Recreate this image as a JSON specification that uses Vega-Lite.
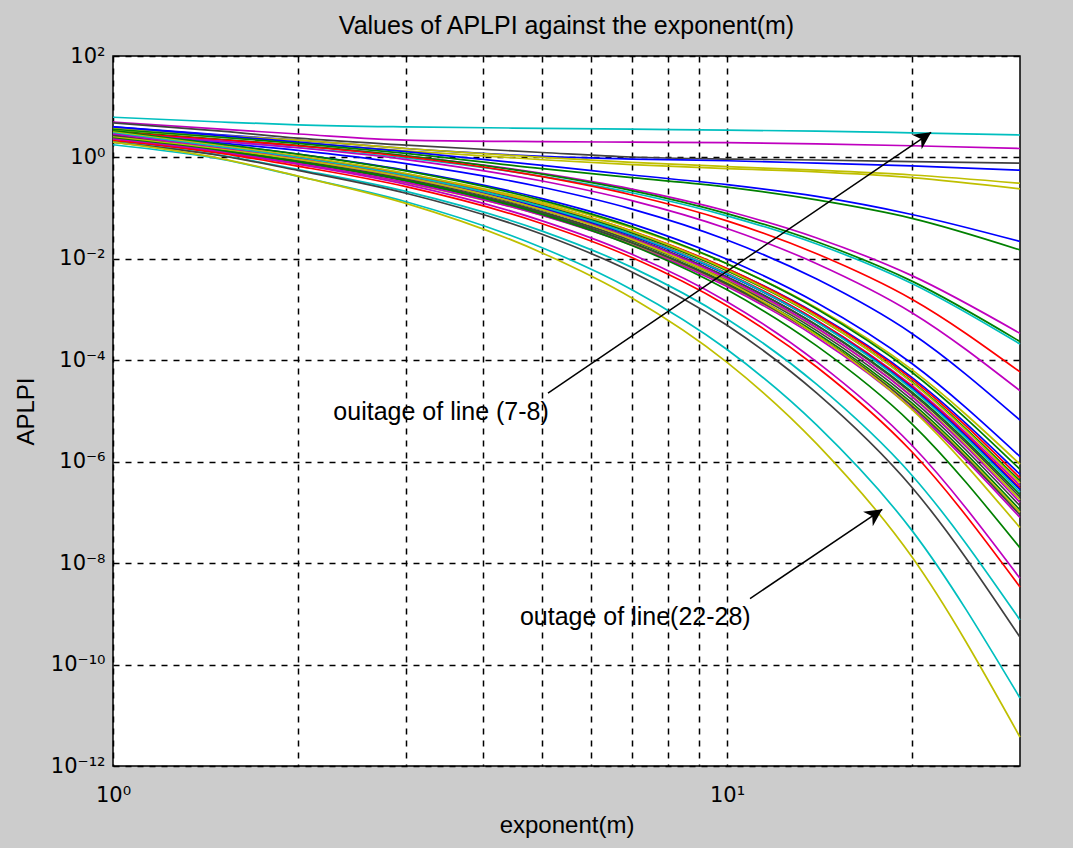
{
"$schema": "https://vega.github.io/schema/vega-lite/v6.json",
"width": 907, "height": 710,
"autosize": "none",
"padding": {"left": 113, "top": 56, "right": 53, "bottom": 82},
"background": "#CCCCCC",
"config": {
  "view": {"fill": "white", "stroke": "black", "strokeWidth": 1.5},
  "font": "Liberation Sans",
  "axis": {"labelFont": "DejaVu Sans", "titleFont": "Liberation Sans", "labelColor": "black", "titleColor": "black", "titleFontWeight": "normal", "labelFontSize": 21, "titleFontSize": 24, "grid": true, "gridColor": "black", "gridDash": [6, 6], "gridWidth": 1.5, "gridOpacity": 1, "domain": false, "ticks": false, "labelOverlap": false, "labelFlush": false}
},
"title": {"text": "Values of APLPI against the exponent(m)", "fontSize": 25, "fontWeight": "normal", "font": "Liberation Sans", "color": "black", "offset": 6},
"datasets": {
"curves": [
{"s":1,"m":1,"v":6.2},{"s":1,"m":1.5,"v":5.0},{"s":1,"m":2,"v":4.4},{"s":1,"m":3,"v":4.0},{"s":1,"m":5,"v":3.75},{"s":1,"m":7,"v":3.6},{"s":1,"m":10,"v":3.45},{"s":1,"m":14,"v":3.3},{"s":1,"m":20,"v":3.05},{"s":1,"m":30,"v":2.77},
{"s":2,"m":1,"v":5.0},{"s":2,"m":1.5,"v":3.6},{"s":2,"m":2,"v":2.9},{"s":2,"m":3,"v":2.2},{"s":2,"m":5,"v":2.05},{"s":2,"m":7,"v":2.0},{"s":2,"m":10,"v":1.95},{"s":2,"m":14,"v":1.85},{"s":2,"m":20,"v":1.7},{"s":2,"m":30,"v":1.5},
{"s":3,"m":1,"v":4.8},{"s":3,"m":1.5,"v":3.3},{"s":3,"m":2,"v":2.4},{"s":3,"m":3,"v":1.75},{"s":3,"m":5,"v":1.25},{"s":3,"m":7,"v":1.02},{"s":3,"m":10,"v":0.93},{"s":3,"m":14,"v":0.89},{"s":3,"m":20,"v":0.83},{"s":3,"m":30,"v":0.77},
{"s":4,"m":1,"v":4.0},{"s":4,"m":1.5,"v":2.8},{"s":4,"m":2,"v":2.2},{"s":4,"m":3,"v":1.5},{"s":4,"m":5,"v":1.05},{"s":4,"m":7,"v":0.93},{"s":4,"m":10,"v":0.86},{"s":4,"m":14,"v":0.77},{"s":4,"m":20,"v":0.68},{"s":4,"m":30,"v":0.56},
{"s":5,"m":1,"v":3.8},{"s":5,"m":1.5,"v":2.7},{"s":5,"m":2,"v":2.2},{"s":5,"m":3,"v":1.5},{"s":5,"m":5,"v":1.0},{"s":5,"m":7,"v":0.8},{"s":5,"m":10,"v":0.66},{"s":5,"m":14,"v":0.56},{"s":5,"m":20,"v":0.45},{"s":5,"m":30,"v":0.31},
{"s":6,"m":1,"v":3.5},{"s":6,"m":1.5,"v":2.5},{"s":6,"m":2,"v":2.0},{"s":6,"m":3,"v":1.35},{"s":6,"m":5,"v":0.9},{"s":6,"m":7,"v":0.72},{"s":6,"m":10,"v":0.6},{"s":6,"m":14,"v":0.52},{"s":6,"m":20,"v":0.40},{"s":6,"m":30,"v":0.24},
{"s":7,"m":1,"v":4.0},{"s":7,"m":1.5,"v":2.7},{"s":7,"m":2,"v":2.0},{"s":7,"m":3,"v":1.3},{"s":7,"m":5,"v":0.7},{"s":7,"m":7,"v":0.45},{"s":7,"m":10,"v":0.29},{"s":7,"m":14,"v":0.17},{"s":7,"m":20,"v":0.075},{"s":7,"m":30,"v":0.022},
{"s":8,"m":1,"v":3.6},{"s":8,"m":1.5,"v":2.5},{"s":8,"m":2,"v":1.9},{"s":8,"m":3,"v":1.2},{"s":8,"m":5,"v":0.6},{"s":8,"m":7,"v":0.4},{"s":8,"m":10,"v":0.26},{"s":8,"m":14,"v":0.145},{"s":8,"m":20,"v":0.063},{"s":8,"m":30,"v":0.015},
{"s":9,"m":1,"v":3.16},{"s":9,"m":1.5,"v":2.21},{"s":9,"m":2,"v":1.70},{"s":9,"m":3,"v":1.08},{"s":9,"m":5,"v":0.485},{"s":9,"m":7,"v":0.238},{"s":9,"m":10,"v":0.0879},{"s":9,"m":14,"v":0.0258},{"s":9,"m":20,"v":4.67e-3},{"s":9,"m":30,"v":3.39e-4},
{"s":10,"m":1,"v":3.31},{"s":10,"m":1.5,"v":2.28},{"s":10,"m":2,"v":1.73},{"s":10,"m":3,"v":1.07},{"s":10,"m":5,"v":0.467},{"s":10,"m":7,"v":0.222},{"s":10,"m":10,"v":0.0782},{"s":10,"m":14,"v":0.0217},{"s":10,"m":20,"v":3.64e-3},{"s":10,"m":30,"v":2.34e-4},
{"s":11,"m":1,"v":3.02},{"s":11,"m":1.5,"v":2.08},{"s":11,"m":2,"v":1.57},{"s":11,"m":3,"v":0.975},{"s":11,"m":5,"v":0.424},{"s":11,"m":7,"v":0.201},{"s":11,"m":10,"v":0.0706},{"s":11,"m":14,"v":0.0196},{"s":11,"m":20,"v":3.27e-3},{"s":11,"m":30,"v":2.09e-4},
{"s":12,"m":1,"v":3.16},{"s":12,"m":1.5,"v":2.23},{"s":12,"m":2,"v":1.70},{"s":12,"m":3,"v":1.03},{"s":12,"m":5,"v":0.417},{"s":12,"m":7,"v":0.182},{"s":12,"m":10,"v":0.0562},{"s":12,"m":14,"v":0.0126},{"s":12,"m":20,"v":1.60e-3},{"s":12,"m":30,"v":5.89e-5},
{"s":13,"m":1,"v":3.02},{"s":13,"m":1.5,"v":2.07},{"s":13,"m":2,"v":1.55},{"s":13,"m":3,"v":0.906},{"s":13,"m":5,"v":0.343},{"s":13,"m":7,"v":0.141},{"s":13,"m":10,"v":0.0398},{"s":13,"m":14,"v":8.02e-3},{"s":13,"m":20,"v":8.69e-4},{"s":13,"m":30,"v":2.51e-5},
{"s":14,"m":1,"v":2.88},{"s":14,"m":1.5,"v":1.91},{"s":14,"m":2,"v":1.38},{"s":14,"m":3,"v":0.757},{"s":14,"m":5,"v":0.258},{"s":14,"m":7,"v":0.0959},{"s":14,"m":10,"v":0.0236},{"s":14,"m":14,"v":3.99e-3},{"s":14,"m":20,"v":3.38e-4},{"s":14,"m":30,"v":6.61e-6},
{"s":15,"m":1,"v":3.16},{"s":15,"m":1.5,"v":1.78},{"s":15,"m":2,"v":1.16},{"s":15,"m":3,"v":0.556},{"s":15,"m":5,"v":0.154},{"s":15,"m":7,"v":0.0489},{"s":15,"m":10,"v":9.79e-3},{"s":15,"m":14,"v":1.36e-3},{"s":15,"m":20,"v":8.65e-5},{"s":15,"m":30,"v":1.26e-6},
{"s":16,"m":1,"v":2.82},{"s":16,"m":1.5,"v":1.57},{"s":16,"m":2,"v":1.02},{"s":16,"m":3,"v":0.482},{"s":16,"m":5,"v":0.131},{"s":16,"m":7,"v":0.0407},{"s":16,"m":10,"v":7.98e-3},{"s":16,"m":14,"v":1.07e-3},{"s":16,"m":20,"v":6.53e-5},{"s":16,"m":30,"v":8.91e-7},
{"s":17,"m":1,"v":3.31},{"s":17,"m":1.5,"v":1.82},{"s":17,"m":2,"v":1.16},{"s":17,"m":3,"v":0.541},{"s":17,"m":5,"v":0.142},{"s":17,"m":7,"v":0.0429},{"s":17,"m":10,"v":8.04e-3},{"s":17,"m":14,"v":1.03e-3},{"s":17,"m":20,"v":5.81e-5},{"s":17,"m":30,"v":7.08e-7},
{"s":18,"m":1,"v":2.63},{"s":18,"m":1.5,"v":1.45},{"s":18,"m":2,"v":0.925},{"s":18,"m":3,"v":0.430},{"s":18,"m":5,"v":0.113},{"s":18,"m":7,"v":0.0340},{"s":18,"m":10,"v":6.38e-3},{"s":18,"m":14,"v":8.17e-4},{"s":18,"m":20,"v":4.61e-5},{"s":18,"m":30,"v":5.62e-7},
{"s":19,"m":1,"v":2.95},{"s":19,"m":1.5,"v":1.60},{"s":19,"m":2,"v":1.02},{"s":19,"m":3,"v":0.467},{"s":19,"m":5,"v":0.120},{"s":19,"m":7,"v":0.0353},{"s":19,"m":10,"v":6.43e-3},{"s":19,"m":14,"v":7.91e-4},{"s":19,"m":20,"v":4.26e-5},{"s":19,"m":30,"v":4.79e-7},
{"s":20,"m":1,"v":2.75},{"s":20,"m":1.5,"v":1.49},{"s":20,"m":2,"v":0.946},{"s":20,"m":3,"v":0.432},{"s":20,"m":5,"v":0.110},{"s":20,"m":7,"v":0.0324},{"s":20,"m":10,"v":5.85e-3},{"s":20,"m":14,"v":7.13e-4},{"s":20,"m":20,"v":3.78e-5},{"s":20,"m":30,"v":4.17e-7},
{"s":21,"m":1,"v":3.16},{"s":21,"m":1.5,"v":1.70},{"s":21,"m":2,"v":1.07},{"s":21,"m":3,"v":0.482},{"s":21,"m":5,"v":0.121},{"s":21,"m":7,"v":0.0348},{"s":21,"m":10,"v":6.12e-3},{"s":21,"m":14,"v":7.24e-4},{"s":21,"m":20,"v":3.68e-5},{"s":21,"m":30,"v":3.80e-7},
{"s":22,"m":1,"v":2.51},{"s":22,"m":1.5,"v":1.36},{"s":22,"m":2,"v":0.857},{"s":22,"m":3,"v":0.388},{"s":22,"m":5,"v":0.0982},{"s":22,"m":7,"v":0.0286},{"s":22,"m":10,"v":5.09e-3},{"s":22,"m":14,"v":6.11e-4},{"s":22,"m":20,"v":3.18e-5},{"s":22,"m":30,"v":3.39e-7},
{"s":23,"m":1,"v":2.82},{"s":23,"m":1.5,"v":1.51},{"s":23,"m":2,"v":0.946},{"s":23,"m":3,"v":0.425},{"s":23,"m":5,"v":0.105},{"s":23,"m":7,"v":0.0300},{"s":23,"m":10,"v":5.22e-3},{"s":23,"m":14,"v":6.08e-4},{"s":23,"m":20,"v":3.02e-5},{"s":23,"m":30,"v":3.02e-7},
{"s":24,"m":1,"v":2.69},{"s":24,"m":1.5,"v":1.44},{"s":24,"m":2,"v":0.902},{"s":24,"m":3,"v":0.404},{"s":24,"m":5,"v":0.0998},{"s":24,"m":7,"v":0.0285},{"s":24,"m":10,"v":4.94e-3},{"s":24,"m":14,"v":5.74e-4},{"s":24,"m":20,"v":2.84e-5},{"s":24,"m":30,"v":2.82e-7},
{"s":25,"m":1,"v":3.02},{"s":25,"m":1.5,"v":1.60},{"s":25,"m":2,"v":0.998},{"s":25,"m":3,"v":0.442},{"s":25,"m":5,"v":0.107},{"s":25,"m":7,"v":0.0299},{"s":25,"m":10,"v":5.07e-3},{"s":25,"m":14,"v":5.70e-4},{"s":25,"m":20,"v":2.70e-5},{"s":25,"m":30,"v":2.51e-7},
{"s":26,"m":1,"v":2.57},{"s":26,"m":1.5,"v":1.36},{"s":26,"m":2,"v":0.851},{"s":26,"m":3,"v":0.378},{"s":26,"m":5,"v":0.0918},{"s":26,"m":7,"v":0.0258},{"s":26,"m":10,"v":4.39e-3},{"s":26,"m":14,"v":4.97e-4},{"s":26,"m":20,"v":2.38e-5},{"s":26,"m":30,"v":2.24e-7},
{"s":27,"m":1,"v":2.75},{"s":27,"m":1.5,"v":1.45},{"s":27,"m":2,"v":0.899},{"s":27,"m":3,"v":0.395},{"s":27,"m":5,"v":0.0946},{"s":27,"m":7,"v":0.0262},{"s":27,"m":10,"v":4.38e-3},{"s":27,"m":14,"v":4.83e-4},{"s":27,"m":20,"v":2.23e-5},{"s":27,"m":30,"v":2.00e-7},
{"s":28,"m":1,"v":2.40},{"s":28,"m":1.5,"v":1.26},{"s":28,"m":2,"v":0.785},{"s":28,"m":3,"v":0.346},{"s":28,"m":5,"v":0.0828},{"s":28,"m":7,"v":0.0230},{"s":28,"m":10,"v":3.85e-3},{"s":28,"m":14,"v":4.27e-4},{"s":28,"m":20,"v":1.98e-5},{"s":28,"m":30,"v":1.78e-7},
{"s":29,"m":1,"v":2.88},{"s":29,"m":1.5,"v":1.50},{"s":29,"m":2,"v":0.925},{"s":29,"m":3,"v":0.401},{"s":29,"m":5,"v":0.0938},{"s":29,"m":7,"v":0.0254},{"s":29,"m":10,"v":4.11e-3},{"s":29,"m":14,"v":4.38e-4},{"s":29,"m":20,"v":1.92e-5},{"s":29,"m":30,"v":1.58e-7},
{"s":30,"m":1,"v":2.63},{"s":30,"m":1.5,"v":1.37},{"s":30,"m":2,"v":0.839},{"s":30,"m":3,"v":0.363},{"s":30,"m":5,"v":0.0843},{"s":30,"m":7,"v":0.0228},{"s":30,"m":10,"v":3.65e-3},{"s":30,"m":14,"v":3.85e-4},{"s":30,"m":20,"v":1.67e-5},{"s":30,"m":30,"v":1.35e-7},
{"s":31,"m":1,"v":2.51},{"s":31,"m":1.5,"v":1.30},{"s":31,"m":2,"v":0.794},{"s":31,"m":3,"v":0.341},{"s":31,"m":5,"v":0.0782},{"s":31,"m":7,"v":0.0209},{"s":31,"m":10,"v":3.30e-3},{"s":31,"m":14,"v":3.42e-4},{"s":31,"m":20,"v":1.44e-5},{"s":31,"m":30,"v":1.12e-7},
{"s":32,"m":1,"v":2.34},{"s":32,"m":1.5,"v":1.21},{"s":32,"m":2,"v":0.740},{"s":32,"m":3,"v":0.316},{"s":32,"m":5,"v":0.0723},{"s":32,"m":7,"v":0.0192},{"s":32,"m":10,"v":3.03e-3},{"s":32,"m":14,"v":3.11e-4},{"s":32,"m":20,"v":1.30e-5},{"s":32,"m":30,"v":1.00e-7},
{"s":33,"m":1,"v":2.69},{"s":33,"m":1.5,"v":1.37},{"s":33,"m":2,"v":0.834},{"s":33,"m":3,"v":0.352},{"s":33,"m":5,"v":0.0789},{"s":33,"m":7,"v":0.0206},{"s":33,"m":10,"v":3.15e-3},{"s":33,"m":14,"v":3.13e-4},{"s":33,"m":20,"v":1.25e-5},{"s":33,"m":30,"v":8.91e-8},
{"s":34,"m":1,"v":2.45},{"s":34,"m":1.5,"v":1.25},{"s":34,"m":2,"v":0.760},{"s":34,"m":3,"v":0.321},{"s":34,"m":5,"v":0.0716},{"s":34,"m":7,"v":0.0186},{"s":34,"m":10,"v":2.84e-3},{"s":34,"m":14,"v":2.82e-4},{"s":34,"m":20,"v":1.12e-5},{"s":34,"m":30,"v":7.94e-8},
{"s":35,"m":1,"v":2.51},{"s":35,"m":1.5,"v":1.45},{"s":35,"m":2,"v":0.914},{"s":35,"m":3,"v":0.405},{"s":35,"m":5,"v":0.0929},{"s":35,"m":7,"v":0.0242},{"s":35,"m":10,"v":3.56e-3},{"s":35,"m":14,"v":3.13e-4},{"s":35,"m":20,"v":1.08e-5},{"s":35,"m":30,"v":5.01e-8},
{"s":36,"m":1,"v":2.40},{"s":36,"m":1.5,"v":1.36},{"s":36,"m":2,"v":0.830},{"s":36,"m":3,"v":0.353},{"s":36,"m":5,"v":0.0753},{"s":36,"m":7,"v":0.0183},{"s":36,"m":10,"v":2.45e-3},{"s":36,"m":14,"v":1.92e-4},{"s":36,"m":20,"v":5.60e-6},{"s":36,"m":30,"v":2.00e-8},
{"s":37,"m":1,"v":2.29},{"s":37,"m":1.5,"v":1.28},{"s":37,"m":2,"v":0.735},{"s":37,"m":3,"v":0.294},{"s":37,"m":5,"v":0.0561},{"s":37,"m":7,"v":0.0123},{"s":37,"m":10,"v":1.43e-3},{"s":37,"m":14,"v":9.31e-5},{"s":37,"m":20,"v":2.11e-6},{"s":37,"m":30,"v":5.01e-9},
{"s":38,"m":1,"v":2.14},{"s":38,"m":1.5,"v":1.20},{"s":38,"m":2,"v":0.673},{"s":38,"m":3,"v":0.265},{"s":38,"m":5,"v":0.0493},{"s":38,"m":7,"v":0.0106},{"s":38,"m":10,"v":1.19e-3},{"s":38,"m":14,"v":7.38e-5},{"s":38,"m":20,"v":1.57e-6},{"s":38,"m":30,"v":3.39e-9},
{"s":39,"m":1,"v":2.00},{"s":39,"m":1.5,"v":1.10},{"s":39,"m":2,"v":0.579},{"s":39,"m":3,"v":0.214},{"s":39,"m":5,"v":0.0353},{"s":39,"m":7,"v":6.79e-3},{"s":39,"m":10,"v":6.53e-4},{"s":39,"m":14,"v":3.34e-5},{"s":39,"m":20,"v":5.42e-7},{"s":39,"m":30,"v":7.59e-10},
{"s":40,"m":1,"v":2.00},{"s":40,"m":1.5,"v":1.08},{"s":40,"m":2,"v":0.555},{"s":40,"m":3,"v":0.197},{"s":40,"m":5,"v":0.0305},{"s":40,"m":7,"v":5.53e-3},{"s":40,"m":10,"v":4.89e-4},{"s":40,"m":14,"v":2.25e-5},{"s":40,"m":20,"v":3.14e-7},{"s":40,"m":30,"v":3.47e-10},
{"s":41,"m":1,"v":1.78},{"s":41,"m":1.5,"v":0.92},{"s":41,"m":2,"v":0.425},{"s":41,"m":3,"v":0.134},{"s":41,"m":5,"v":0.0166},{"s":41,"m":7,"v":2.47e-3},{"s":41,"m":10,"v":1.63e-4},{"s":41,"m":14,"v":5.24e-6},{"s":41,"m":20,"v":4.43e-8},{"s":41,"m":30,"v":2.19e-11},
{"s":42,"m":1,"v":2.00},{"s":42,"m":1.5,"v":0.95},{"s":42,"m":2,"v":0.428},{"s":42,"m":3,"v":0.124},{"s":42,"m":5,"v":0.0131},{"s":42,"m":7,"v":1.69e-3},{"s":42,"m":10,"v":9.12e-5},{"s":42,"m":14,"v":2.25e-6},{"s":42,"m":20,"v":1.33e-8},{"s":42,"m":30,"v":3.72e-12}
],
"arrows": [
{"m": 21.5, "v": 3.13, "m2": 5.11, "v2": 2.25e-5},
{"m": 17.9, "v": 1.15e-7, "m2": 10.9, "v2": 2.0e-9}
],
"notes": [
{"m": 2.285, "v": 9.6e-6, "t": "ouitage of line (7-8)"},
{"m": 4.6, "v": 8.7e-10, "t": "outage of line(22-28)"}
]
},
"encoding": {
  "x": {"field": "m", "type": "quantitative", "scale": {"type": "log", "domain": [1, 30], "nice": false},
        "axis": {"title": "exponent(m)", "values": [1, 2, 3, 4, 5, 6, 7, 8, 9, 10, 20], "labelExpr": "datum.value == 1 ? '10⁰' : datum.value == 10 ? '10¹' : ''", "labelPadding": 18, "titlePadding": 8}},
  "y": {"field": "v", "type": "quantitative", "scale": {"type": "log", "domain": [1e-12, 100], "nice": false},
        "axis": {"title": "APLPI", "values": [1e-12, 1e-10, 1e-8, 1e-6, 1e-4, 1e-2, 1, 100], "labelExpr": "['10⁻¹²','10⁻¹⁰','10⁻⁸','10⁻⁶','10⁻⁴','10⁻²','10⁰','10²'][round(log(datum.value)/LN10/2)+6]", "labelPadding": 8, "titlePadding": 12}}
},
"layer": [
  {"data": {"name": "curves"},
   "mark": {"type": "line", "interpolate": "monotone", "strokeWidth": 1.7},
   "encoding": {"color": {"field": "s", "type": "nominal", "legend": null,
     "scale": {"domain": [1,2,3,4,5,6,7,8,9,10,11,12,13,14,15,16,17,18,19,20,21,22,23,24,25,26,27,28,29,30,31,32,33,34,35,36,37,38,39,40,41,42],
       "range": ["#00BFBF","#BF00BF","#404040","#0000FF","#BFBF00","#BFBF00","#0000FF","#008000","#BF00BF","#008000","#00BFBF","#FF0000","#BF00BF","#0000FF","#0000FF","#BFBF00","#008000","#0000FF","#FF0000","#008000","#BFBF00","#BF00BF","#FF0000","#0000FF","#00BFBF","#008000","#404040","#BFBF00","#BF00BF","#404040","#008000","#BFBF00","#404040","#BF00BF","#BFBF00","#008000","#BF00BF","#FF0000","#00BFBF","#404040","#00BFBF","#BFBF00"]}}}},
  {"data": {"name": "arrows"},
   "mark": {"type": "rule", "color": "black", "strokeWidth": 1.5},
   "encoding": {"x2": {"field": "m2"}, "y2": {"field": "v2"}}},
  {"data": {"name": "arrows"},
   "mark": {"type": "point", "shape": "M0,0L-0.5,1L0,0.7L0.5,1Z", "filled": true, "color": "black", "opacity": 1, "size": 1200, "angle": 56}},
  {"data": {"name": "notes"},
   "mark": {"type": "text", "align": "left", "baseline": "middle", "fontSize": 25, "font": "Liberation Sans", "color": "black"},
   "encoding": {"text": {"field": "t"}}}
]
}
